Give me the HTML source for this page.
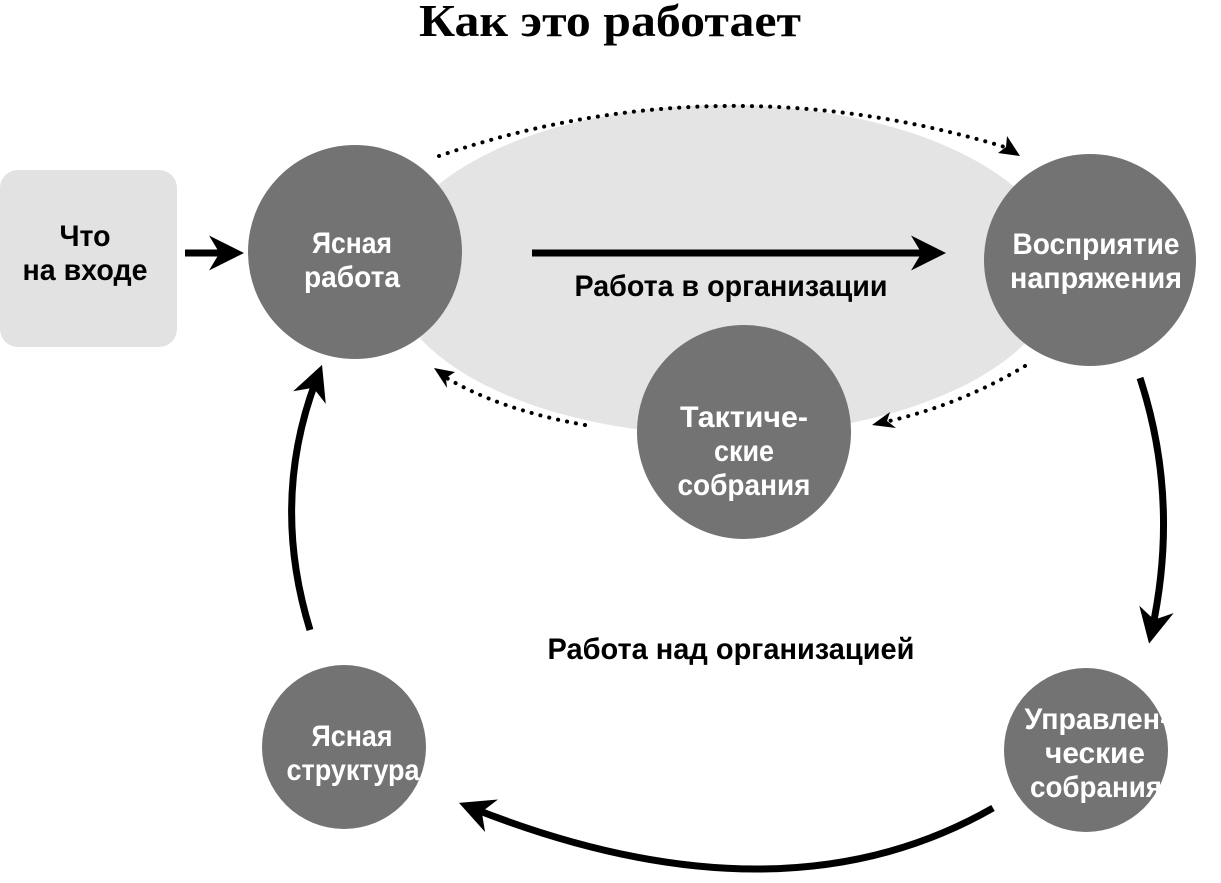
<!DOCTYPE html>
<html><head><meta charset="utf-8"><style>
body{margin:0;background:#fff}
svg{display:block}
.t{font-family:"Liberation Sans",sans-serif;font-weight:bold;font-size:30px;text-anchor:middle}
.w{fill:#fff}
.dot{fill:none;stroke:#000;stroke-width:4;stroke-dasharray:0.1 9;stroke-linecap:round}
</style></head><body>
<svg width="1221" height="883" viewBox="0 0 1221 883" xmlns="http://www.w3.org/2000/svg">
<defs>
<marker id="a" viewBox="0 0 10 10" refX="6" refY="5" markerWidth="5" markerHeight="5" orient="auto" markerUnits="strokeWidth"><path d="M0,0 L10,5 L0,10 L3,5 z" fill="#000"/></marker>
</defs>
<text x="610" y="36" text-anchor="middle" font-family="Liberation Serif,serif" font-weight="bold" font-size="46" textLength="382" lengthAdjust="spacingAndGlyphs">Как это работает</text>
<rect x="0" y="170" width="177" height="177" rx="18" fill="#e2e2e2"/>
<text class="t" x="85" y="246" textLength="51" lengthAdjust="spacingAndGlyphs">Что</text>
<text class="t" x="85" y="280" textLength="125" lengthAdjust="spacingAndGlyphs">на входе</text>
<ellipse cx="725" cy="270" rx="335" ry="165" fill="#e4e4e4"/>
<line x1="185" y1="253" x2="230" y2="253" stroke="#000" stroke-width="7" marker-end="url(#a)"/>
<line x1="532" y1="253" x2="932" y2="253" stroke="#000" stroke-width="7" marker-end="url(#a)"/>
<path class="dot" d="M439,156 Q720,60 1008,148"/>
<path d="M1020,156 L998,153 L1006,147 L1007,136 z" fill="#000"/>
<path class="dot" d="M585,425 Q500,410 445,377"/>
<path d="M434,368 L455,372 L446,378 L447,388 z" fill="#000"/>
<path class="dot" d="M1025,366 Q960,405 885,422"/>
<path d="M872,425 L890,412 L887,421 L896,428 z" fill="#000"/>
<path d="M1140,378 Q1180,500 1152,630" fill="none" stroke="#000" stroke-width="7" marker-end="url(#a)"/>
<path d="M993,808 Q780,930 472,808" fill="none" stroke="#000" stroke-width="7" marker-end="url(#a)"/>
<path d="M310,630 Q270,500 317,378" fill="none" stroke="#000" stroke-width="7" marker-end="url(#a)"/>
<circle cx="355" cy="252" r="107" fill="#737373"/>
<circle cx="1090" cy="260" r="106" fill="#737373"/>
<circle cx="744" cy="432" r="107" fill="#737373"/>
<circle cx="344" cy="747" r="82" fill="#737373"/>
<circle cx="1086" cy="750" r="82" fill="#737373"/>
<text class="t w" x="352" y="253" textLength="80" lengthAdjust="spacingAndGlyphs">Ясная</text>
<text class="t w" x="352" y="287" textLength="96" lengthAdjust="spacingAndGlyphs">работа</text>
<text class="t w" x="1096" y="254" textLength="167" lengthAdjust="spacingAndGlyphs">Восприятие</text>
<text class="t w" x="1096" y="288" textLength="172" lengthAdjust="spacingAndGlyphs">напряжения</text>
<text class="t w" x="744" y="427" textLength="128" lengthAdjust="spacingAndGlyphs">Тактиче-</text>
<text class="t w" x="744" y="461" textLength="60" lengthAdjust="spacingAndGlyphs">ские</text>
<text class="t w" x="744" y="495" textLength="133" lengthAdjust="spacingAndGlyphs">собрания</text>
<text class="t w" x="352" y="746" textLength="81" lengthAdjust="spacingAndGlyphs">Ясная</text>
<text class="t w" x="353" y="780" textLength="133" lengthAdjust="spacingAndGlyphs">структура</text>
<text class="t w" x="1097" y="729" textLength="145" lengthAdjust="spacingAndGlyphs">Управлен-</text>
<text class="t w" x="1095" y="763" textLength="100" lengthAdjust="spacingAndGlyphs">ческие</text>
<text class="t w" x="1096" y="797" textLength="132" lengthAdjust="spacingAndGlyphs">собрания</text>
<text class="t" x="731" y="296" textLength="313" lengthAdjust="spacingAndGlyphs">Работа в организации</text>
<text class="t" x="731" y="659" textLength="367" lengthAdjust="spacingAndGlyphs">Работа над организацией</text>
</svg>
</body></html>
